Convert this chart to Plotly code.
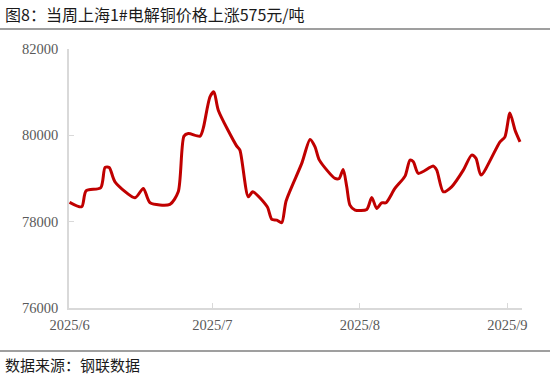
import plotly.graph_objects as go

# Data (Shanghai 1# electrolytic copper price, yuan/ton)
dates = [
    "2025-06-01 00:00", "2025-06-03 13:00", "2025-06-04 11:00", "2025-06-07 13:00",
    "2025-06-08 11:00", "2025-06-09 08:00", "2025-06-10 13:00", "2025-06-14 18:00",
    "2025-06-16 12:00", "2025-06-17 22:00", "2025-06-22 02:00", "2025-06-23 20:00",
    "2025-06-25 01:00", "2025-06-25 23:00", "2025-06-28 10:00", "2025-06-29 02:00",
    "2025-06-30 12:00", "2025-07-01 08:00", "2025-07-02 06:00", "2025-07-06 03:00",
    "2025-07-06 19:00", "2025-07-08 13:00", "2025-07-09 12:00", "2025-07-12 13:00",
    "2025-07-13 12:00", "2025-07-14 13:00", "2025-07-15 14:00", "2025-07-16 12:00",
    "2025-07-19 19:00", "2025-07-21 13:00", "2025-07-22 14:00", "2025-07-23 12:00",
    "2025-07-26 19:00", "2025-07-27 16:00", "2025-07-28 12:00", "2025-07-29 06:00",
    "2025-07-29 22:00", "2025-07-31 00:00", "2025-08-02 11:00", "2025-08-03 12:00",
    "2025-08-04 13:00", "2025-08-05 14:00", "2025-08-06 12:00", "2025-08-08 09:00",
    "2025-08-10 12:00", "2025-08-11 13:00", "2025-08-12 06:00", "2025-08-13 07:00",
    "2025-08-16 11:00", "2025-08-17 04:00", "2025-08-18 13:00", "2025-08-20 07:00",
    "2025-08-22 18:00", "2025-08-24 12:00", "2025-08-25 10:00", "2025-08-26 11:00",
    "2025-08-30 11:00", "2025-08-31 12:00", "2025-09-01 13:00", "2025-09-02 15:00",
    "2025-09-03 16:00",
]
prices = [
    78450, 78345, 78715, 78785,
    79257, 79257, 78923, 78553,
    78770, 78437, 78400, 78692,
    79981, 80042, 79981, 80160,
    80891, 81007, 80583, 79750,
    79657, 78576, 78692, 78345,
    78053, 78037, 77975, 78480,
    79350, 79905, 79734, 79426,
    79002, 79002, 79210, 78808,
    78384, 78268, 78284, 78562,
    78307, 78437, 78437, 78770,
    79055, 79426, 79387, 79118,
    79287, 79194, 78692, 78808,
    79194, 79542, 79465, 79079,
    79850, 79965, 80520, 80120,
    79850,
]

x_tickvals = ["2025-06-01", "2025-07-01", "2025-08-01", "2025-09-01"]
x_ticktext = ["2025/6", "2025/7", "2025/8", "2025/9"]
y_tickvals = [76000, 78000, 80000, 82000]
y_ticktext = ["76000", "78000", "80000", "82000"]

title_text = "图8：当周上海1#电解铜价格上涨575元/吨"
source_text = "数据来源：钢联数据"

W, H = 550, 381
L, R, T, B = 69, 28, 49, 73
pw, ph = W - L - R, H - T - B


def px_x(px):
    return (px - L) / pw


def px_y(py):
    return (H - B - py) / ph


fig = go.Figure()
fig.add_trace(go.Scatter(
    x=dates, y=prices, mode="lines",
    line=dict(color="#c00000", width=3, shape="spline", smoothing=0.7),
    hoverinfo="skip", showlegend=False,
))

axis_font = dict(family="Liberation Serif, Times New Roman, serif", size=14.5, color="#595959")

fig.update_layout(
    width=W, height=H,
    margin=dict(l=L, r=R, t=T, b=B, autoexpand=False),
    paper_bgcolor="white", plot_bgcolor="white",
    xaxis=dict(
        type="date", range=["2025-05-31 21:00", "2025-09-04 02:00"],
        tickvals=x_tickvals, ticktext=x_ticktext,
        showgrid=False, zeroline=False,
        showline=True, linecolor="#d9d9d9", linewidth=1.5,
        ticks="inside", ticklen=5, tickcolor="#d9d9d9", tickwidth=1,
        tickfont=axis_font, ticklabelstandoff=3,
    ),
    yaxis=dict(
        range=[76000, 82000],
        tickvals=y_tickvals, ticktext=y_ticktext,
        showgrid=False, zeroline=False,
        showline=True, linecolor="#d9d9d9", linewidth=1.5,
        ticks="inside", ticklen=5, tickcolor="#d9d9d9", tickwidth=1,
        tickfont=axis_font, ticklabelstandoff=6,
    ),
    shapes=[
        dict(type="line", xref="paper", yref="paper",
             x0=px_x(0), x1=px_x(W), y0=px_y(29), y1=px_y(29),
             line=dict(color="#7f7f7f", width=1.5)),
        dict(type="line", xref="paper", yref="paper",
             x0=px_x(0), x1=px_x(W), y0=px_y(351), y1=px_y(351),
             line=dict(color="#7f7f7f", width=1.5)),
    ],
    annotations=[
        dict(text=title_text, xref="paper", yref="paper",
             x=px_x(3), y=px_y(14), xanchor="left", yanchor="middle",
             showarrow=False,
             font=dict(family="Noto Sans CJK SC", size=16, color="#1a1a1a")),
        dict(text=source_text, xref="paper", yref="paper",
             x=px_x(3), y=px_y(364), xanchor="left", yanchor="middle",
             showarrow=False,
             font=dict(family="Noto Sans CJK SC", size=15, color="#1a1a1a")),
    ],
)

fig.write_html(
    "out.html",
    config={"displayModeBar": False},
    post_script="document.body.style.margin='0px';document.body.style.overflow='hidden';",
)
